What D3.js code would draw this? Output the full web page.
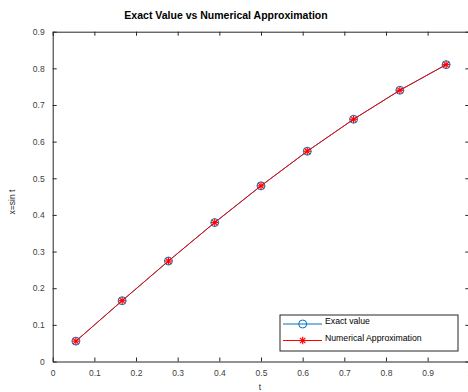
<!DOCTYPE html>
<html>
<head>
<meta charset="utf-8">
<script src="https://cdn.jsdelivr.net/npm/d3@7"></script>
<style>
  body { margin: 0; background: #fff; }
  svg { display: block; font-family: "Liberation Sans", Arial, sans-serif; }
  .tick text { fill: #404040; font-size: 8.5px; }
  .domain, .tick line { stroke: #262626; }
</style>
</head>
<body>
<div id="chart"></div>
<script>
// sample points and values
const tValues = [0.0556, 0.1667, 0.2778, 0.3889, 0.5, 0.6111, 0.7222, 0.8333, 0.9444];
const exactValues = [0.0555, 0.1659, 0.2742, 0.3792, 0.4794, 0.5738, 0.6611, 0.7402, 0.8101];
const approxValues = [0.0555, 0.1659, 0.2742, 0.3792, 0.4794, 0.5738, 0.6611, 0.7402, 0.8101];
const xTicks = [0, 0.1, 0.2, 0.3, 0.4, 0.5, 0.6, 0.7, 0.8, 0.9, 1];
const yTicks = [0, 0.1, 0.2, 0.3, 0.4, 0.5, 0.6, 0.7, 0.8, 0.9];
const seriesNames = ['Exact value', 'Numerical Approximation'];

const width = 468, height = 392;
const x0 = 52.7, x1 = 469.3, y0 = 361.5, y1 = 31.7;
const blue = '#0072BD', red = '#FF0000';

const svg = d3.select('#chart').append('svg')
  .attr('width', width).attr('height', height);

const x = d3.scaleLinear().domain([0, 1]).range([x0, x1]);
const y = d3.scaleLinear().domain([0, 0.9]).range([y0, y1]);

const fmt = d => d === 0 ? '0' : d === 1 ? '1' : d3.format('.1f')(d);

// axes (MATLAB style: ticks inward, box on)
svg.append('g').attr('transform', 'translate(0,' + y0 + ')')
  .call(d3.axisBottom(x).tickValues(xTicks).tickFormat(fmt).tickSizeInner(-4).tickSizeOuter(0).tickPadding(8));
svg.append('g').attr('transform', 'translate(' + x0 + ',0)')
  .call(d3.axisLeft(y).tickValues(yTicks).tickFormat(fmt).tickSizeInner(-4).tickSizeOuter(0).tickPadding(8));
svg.append('g').attr('transform', 'translate(0,' + y1 + ')')
  .call(d3.axisTop(x).tickValues(xTicks).tickFormat('').tickSizeInner(-4).tickSizeOuter(0));
svg.append('g').attr('transform', 'translate(' + x1 + ',0)')
  .call(d3.axisRight(y).tickValues(yTicks).tickFormat('').tickSizeInner(-4).tickSizeOuter(0));

svg.selectAll('.domain').attr('stroke-width', 1);

// title and labels
svg.append('text').attr('x', 226).attr('y', 19).attr('text-anchor', 'middle')
  .style('font-size', '10.5px').style('font-weight', 'bold').attr('fill', '#000')
  .text('Exact Value vs Numerical Approximation');
svg.append('text').attr('x', 260).attr('y', 390).attr('text-anchor', 'middle')
  .style('font-size', '8.5px').attr('fill', '#262626').text('t');
svg.append('text').attr('transform', 'translate(15,202) rotate(-90)').attr('text-anchor', 'middle')
  .style('font-size', '8.5px').attr('fill', '#262626').text('x=sin t');

const line = d3.line().x(d => x(d[0])).y(d => y(d[1]));
const exactPts = tValues.map((t, i) => [t, exactValues[i]]);
const approxPts = tValues.map((t, i) => [t, approxValues[i]]);

function circle(g, cx, cy) {
  g.append('circle').attr('cx', cx).attr('cy', cy).attr('r', 4)
    .attr('fill', 'none').attr('stroke', blue).attr('stroke-width', 1);
}
function star(g, cx, cy) {
  const r = 3.8;
  const s = g.append('g').attr('transform', 'translate(' + cx + ',' + cy + ')')
    .attr('stroke', red).attr('stroke-width', 1.2);
  [0, 45, 90, 135].forEach(a => {
    const rad = a * Math.PI / 180;
    s.append('line')
      .attr('x1', -r * Math.cos(rad)).attr('y1', -r * Math.sin(rad))
      .attr('x2', r * Math.cos(rad)).attr('y2', r * Math.sin(rad));
  });
}

// exact series
svg.append('path').datum(exactPts).attr('d', line)
  .attr('fill', 'none').attr('stroke', blue).attr('stroke-width', 1);
const gExact = svg.append('g');
exactPts.forEach(p => circle(gExact, x(p[0]), y(p[1])));

// numerical approximation
svg.append('path').datum(approxPts).attr('d', line)
  .attr('fill', 'none').attr('stroke', red).attr('stroke-width', 1);
const gApprox = svg.append('g');
approxPts.forEach(p => star(gApprox, x(p[0]), y(p[1])));

// legend
const lg = svg.append('g');
lg.append('rect').attr('x', 280).attr('y', 315).attr('width', 178).attr('height', 36)
  .attr('fill', '#fff').attr('stroke', '#262626').attr('stroke-width', 1);
const rows = [
  { name: seriesNames[0], color: blue, mark: circle, yy: 324 },
  { name: seriesNames[1], color: red, mark: star, yy: 340.5 }
];
rows.forEach(r => {
  lg.append('line').attr('x1', 283).attr('x2', 322).attr('y1', r.yy).attr('y2', r.yy)
    .attr('stroke', r.color).attr('stroke-width', 1);
  r.mark(lg, 302.7, r.yy);
  lg.append('text').attr('x', 325).attr('y', r.yy + 1).attr('dy', '-0.1em')
    .style('font-size', '8.7px').attr('fill', '#000').text(r.name);
});
</script>
</body>
</html>
